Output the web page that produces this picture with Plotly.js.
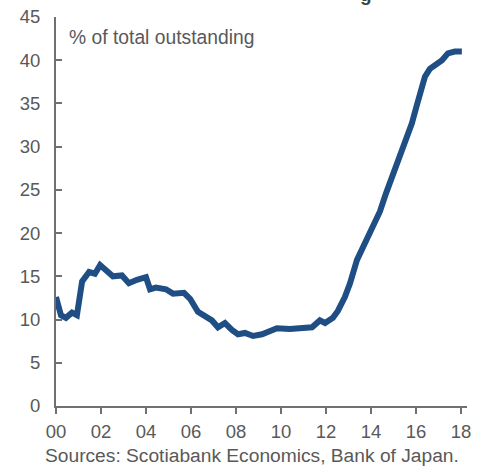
<!DOCTYPE html>
<html>
<head>
<meta charset="utf-8">
<script src="https://cdn.plot.ly/plotly-3.0.1.min.js"></script>
<style>html,body{margin:0;padding:0;background:#fff;}#chart{width:484px;height:468px;}</style>
</head>
<body>
<div id="chart"></div>
<script>
// Decimal years and share of JGBs held (% of total outstanding)
var years = [2000.00, 2000.22, 2000.44, 2000.71, 2000.93, 2001.16, 2001.47, 2001.73, 2001.96, 2002.22,
  2002.53, 2002.93, 2003.24, 2003.60, 2004.00, 2004.18, 2004.44, 2004.89, 2005.20, 2005.69,
  2005.96, 2006.31, 2006.67, 2006.93, 2007.20, 2007.51, 2007.82, 2008.09, 2008.40, 2008.76,
  2009.16, 2009.51, 2009.82, 2010.40, 2011.07, 2011.38, 2011.73, 2011.96, 2012.31, 2012.53,
  2012.84, 2013.07, 2013.38, 2013.60, 2013.87, 2014.18, 2014.40, 2014.67, 2015.07, 2015.42,
  2015.82, 2016.04, 2016.27, 2016.40, 2016.62, 2016.93, 2017.16, 2017.42, 2017.73, 2018.04];
var share = [12.6, 10.5, 10.2, 10.8, 10.5, 14.4, 15.5, 15.3, 16.3, 15.7,
  15.0, 15.1, 14.2, 14.6, 14.9, 13.5, 13.7, 13.5, 13.0, 13.1,
  12.4, 10.9, 10.4, 9.9, 9.1, 9.6, 8.8, 8.3, 8.45, 8.1,
  8.3, 8.7, 9.0, 8.9, 9.0, 9.1, 9.9, 9.6, 10.2, 11.0,
  12.6, 14.2, 16.9, 18.1, 19.6, 21.1, 22.5, 24.6, 27.3, 30.0,
  32.7, 34.8, 37.0, 38.1, 39.0, 39.5, 40.0, 40.8, 41.0, 41.0];
var xTickVals = [2000, 2002, 2004, 2006, 2008, 2010, 2012, 2014, 2016, 2018];
var xTickText = ['00', '02', '04', '06', '08', '10', '12', '14', '16', '18'];
var yTickVals = [0, 5, 10, 15, 20, 25, 30, 35, 40, 45];

var gray = '#595959';
var trace = {
  x: years, y: share, type: 'scatter', mode: 'lines',
  line: {color: '#1f4e84', width: 6},
  hoverinfo: 'skip'
};
var layout = {
  width: 484, height: 468,
  margin: {l: 56, r: 17, t: 17, b: 62},
  paper_bgcolor: '#fff', plot_bgcolor: '#fff',
  showlegend: false,
  font: {family: 'Liberation Sans, Arial, sans-serif', color: gray, size: 18},
  xaxis: {
    range: [2000, 2018.27], tickvals: xTickVals, ticktext: xTickText,
    showgrid: false, zeroline: false, showline: true, linecolor: '#707070', linewidth: 2,
    ticks: 'outside', ticklen: 6, tickwidth: 2, tickcolor: '#707070',
    ticklabelstandoff: 2,
    tickfont: {size: 18.5, color: gray}, fixedrange: true
  },
  yaxis: {
    range: [0, 45], tickvals: yTickVals,
    showgrid: false, zeroline: false, showline: true, linecolor: '#707070', linewidth: 2,
    ticks: 'inside', ticklen: 6, tickwidth: 2, tickcolor: '#707070',
    ticklabelstandoff: 10,
    tickfont: {size: 18.5, color: gray}, fixedrange: true
  },
  annotations: [
    {text: '% of total outstanding', xref: 'paper', yref: 'paper', x: 0.027, y: 0.948,
      xanchor: 'left', yanchor: 'middle', showarrow: false, font: {size: 19.3, color: gray}},
    {text: 'Sources: Scotiabank Economics, Bank of Japan.', xref: 'paper', yref: 'paper',
      x: 0.478, y: -0.1285, xanchor: 'center', yanchor: 'middle', showarrow: false,
      font: {size: 19.2, color: gray}},
    {text: '<b>g</b>', xref: 'paper', yref: 'paper', x: 0.754, y: 1.0566,
      xanchor: 'center', yanchor: 'middle', showarrow: false, font: {size: 19, color: '#404040'}}
  ]
};
Plotly.newPlot('chart', [trace], layout, {staticPlot: true, displayModeBar: false});
</script>
</body>
</html>
